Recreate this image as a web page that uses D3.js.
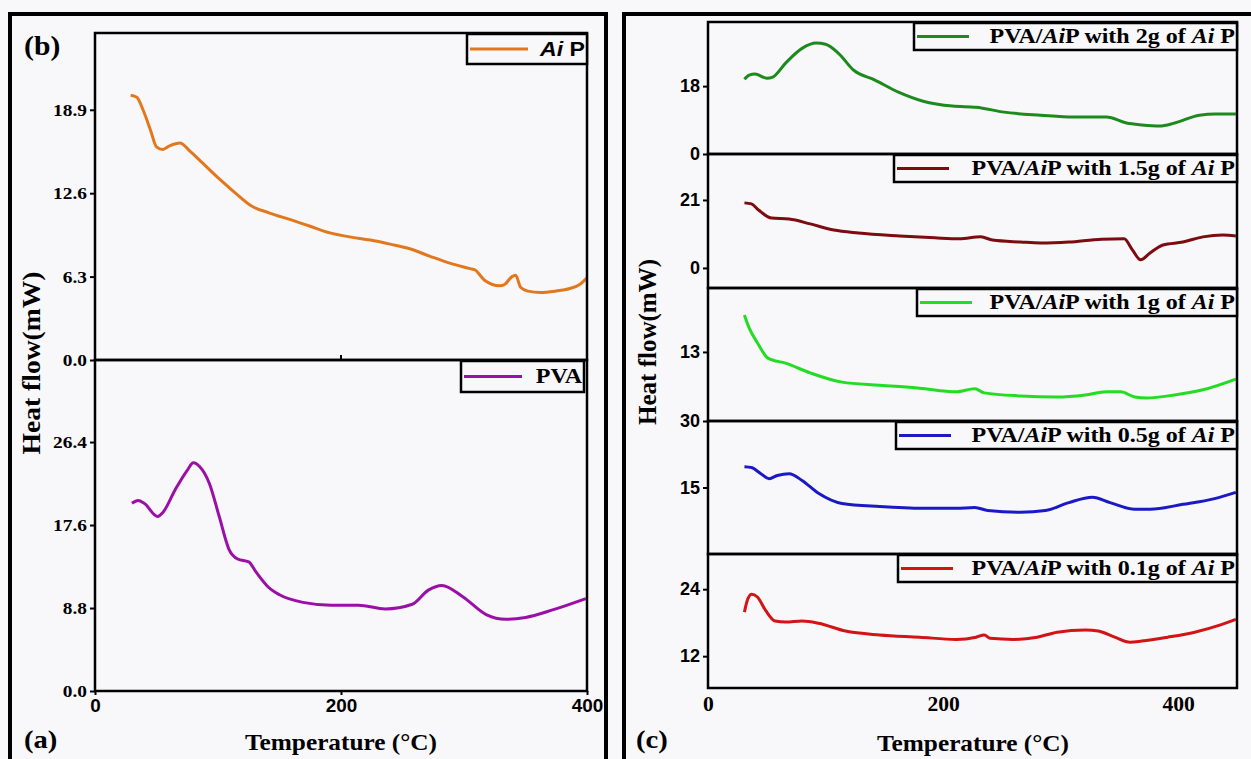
<!DOCTYPE html>
<html>
<head>
<meta charset="utf-8">
<script src="https://cdn.jsdelivr.net/npm/d3@7"></script>
<style>
  body { margin: 0; background: #f8f7fa; }
  svg { display: block; }
  .serif { font-family: "Liberation Serif", "Times New Roman", serif; font-weight: bold; }
  .sans { font-family: "Liberation Sans", Arial, sans-serif; font-weight: bold; }
</style>
</head>
<body>
<script>
// ---- data ----
const aipTemp = [29, 34, 39, 45, 50, 55, 61, 69, 77, 85, 102, 118, 126, 142, 159, 175, 191, 207, 224, 240, 256, 272, 289, 305, 309, 317, 329, 333, 339, 342, 346, 352, 362, 374, 386, 394, 400];
const aipFlow = [20.0, 19.85, 18.9, 17.4, 16.1, 15.9, 16.2, 16.4, 15.8, 15.1, 13.6, 12.3, 11.7, 11.1, 10.6, 10.1, 9.6, 9.3, 9.06, 8.75, 8.4, 7.85, 7.3, 6.9, 6.8, 6.0, 5.6, 5.7, 6.3, 6.4, 5.5, 5.2, 5.1, 5.2, 5.4, 5.7, 6.2];

const pvaTemp = [30, 35, 40, 51, 55, 65, 75, 80, 85, 93, 101, 109, 116, 125, 131, 141, 150, 169, 192, 214, 236, 258, 271, 282, 299, 318, 334, 350, 372, 399];
const pvaFlow = [19.9, 20.2, 19.9, 18.5, 18.9, 21.3, 23.4, 24.2, 23.8, 22.0, 18.5, 15.0, 14.0, 13.7, 12.6, 11.0, 10.2, 9.4, 9.1, 9.1, 8.7, 9.2, 10.7, 11.2, 10.0, 8.1, 7.6, 7.8, 8.6, 9.8];

const g2Temp = [31, 35, 40, 50, 55, 66, 80, 92, 100, 111, 124, 142, 162, 183, 208, 228, 252, 283, 311, 339, 356, 369, 384, 397, 418, 432, 449];
const g2Flow = [19.8, 20.9, 21.2, 20.1, 20.4, 24.1, 28.0, 29.4, 29.1, 26.7, 22.2, 19.6, 16.4, 14.0, 12.7, 12.4, 11.1, 10.3, 9.8, 9.8, 8.2, 7.7, 7.4, 8.2, 10.3, 10.6, 10.6];

const g15Temp = [31, 37, 43, 54, 69, 87, 107, 128, 163, 193, 214, 232, 242, 266, 283, 307, 335, 354, 361, 368, 376, 387, 404, 421, 438, 449];
const g15Flow = [20.1, 19.8, 17.9, 15.4, 15.1, 13.6, 11.7, 10.8, 9.9, 9.3, 9.0, 9.6, 8.6, 8.0, 7.7, 8.0, 8.9, 9.0, 5.6, 2.5, 4.6, 7.1, 8.0, 9.6, 10.2, 9.9];

const g1Temp = [31, 35, 42, 51, 66, 87, 114, 146, 180, 211, 227, 235, 266, 297, 321, 339, 351, 363, 373, 397, 421, 449];
const g1Flow = [20.2, 17.7, 14.8, 11.8, 10.8, 8.9, 7.1, 6.5, 5.9, 5.2, 5.8, 5.0, 4.4, 4.2, 4.6, 5.2, 5.2, 4.2, 4.0, 4.6, 5.6, 7.7];

const g05Temp = [31, 37, 45, 52, 59, 69, 80, 94, 114, 146, 183, 211, 227, 238, 266, 287, 307, 327, 342, 363, 376, 404, 431, 449];
const g05Flow = [19.7, 19.5, 18.1, 17.0, 17.7, 18.1, 16.6, 13.7, 11.4, 10.7, 10.3, 10.3, 10.5, 9.8, 9.4, 9.8, 11.6, 12.8, 11.6, 10.1, 10.1, 11.2, 12.5, 13.9];

const g01Temp = [31, 33, 37, 42, 49, 57, 66, 80, 94, 117, 146, 180, 211, 228, 235, 240, 260, 280, 297, 321, 332, 346, 359, 369, 391, 414, 436, 449];
const g01Flow = [19.9, 21.7, 23.1, 22.6, 20.2, 18.3, 18.1, 18.3, 17.9, 16.5, 15.8, 15.4, 15.0, 15.4, 15.8, 15.2, 15.0, 15.4, 16.3, 16.7, 16.5, 15.4, 14.5, 14.7, 15.4, 16.3, 17.6, 18.6];

const leftXTicks = [0, 200, 400];
const rightXTicks = [0, 200, 400];

// ---- layout ----
const W = 1251, H = 759;
const BG = "#f8f7fa";
const svg = d3.select("body").append("svg").attr("width", W).attr("height", H);
svg.append("rect").attr("width", W).attr("height", H).attr("fill", BG);

// outer panel boxes
svg.append("rect").attr("x", 10).attr("y", 14).attr("width", 596).attr("height", 760)
  .attr("fill", "none").attr("stroke", "#000").attr("stroke-width", 4);
svg.append("rect").attr("x", 624).attr("y", 14).attr("width", 640).attr("height", 760)
  .attr("fill", "none").attr("stroke", "#000").attr("stroke-width", 4);

const xL = d3.scaleLinear().domain([0, 400]).range([95, 587]);
const xR = d3.scaleLinear().domain([0, 450]).range([708, 1237]);

// the source picture is a bit stretched sideways, so texts get a small x scale
function label(x, y, str, cls, size, sx, anchor, rot) {
  return svg.append("text")
    .attr("class", cls).attr("font-size", size).attr("fill", "#000")
    .attr("text-anchor", anchor || "start")
    .attr("transform", `translate(${x},${y})` + (rot ? ` rotate(${rot})` : "") + ` scale(${sx},1)`)
    .text(str);
}

function styleTicks(ax, cls, size, sx) {
  ax.select(".domain").remove();
  ax.selectAll("line").attr("stroke", "#000").attr("stroke-width", 2);
  ax.selectAll("text").each(function() {
    const t = d3.select(this);
    const x = +t.attr("x") || 0, y = +t.attr("y") || 0;
    t.attr("x", null).attr("y", null)
      .attr("transform", `translate(${x},${y}) scale(${sx},1)`)
      .attr("class", cls).attr("font-size", size).attr("fill", "#000");
  });
}

function subplot(x, cfg) {
  const y = d3.scaleLinear().domain(cfg.domain).range([cfg.bottom, cfg.top]);
  const g = svg.append("g");
  const data = cfg.temp.map((t, i) => [t, cfg.flow[i]]);

  g.append("path")
    .datum(data)
    .attr("fill", "none")
    .attr("stroke", cfg.color)
    .attr("stroke-width", 3)
    .attr("stroke-linejoin", "round")
    .attr("d", d3.line().x(d => x(d[0])).y(d => y(d[1])).curve(d3.curveMonotoneX));

  const ax = g.append("g")
    .attr("transform", `translate(${x.range()[0]},0)`)
    .call(d3.axisLeft(y).tickValues(cfg.ticks).tickSize(5).tickPadding(3).tickFormat(cfg.fmt));
  styleTicks(ax, cfg.tickFont, cfg.tickSize, cfg.tickSx);

  g.append("rect")
    .attr("x", x.range()[0]).attr("y", cfg.top)
    .attr("width", x.range()[1] - x.range()[0]).attr("height", cfg.bottom - cfg.top)
    .attr("fill", "none").attr("stroke", "#000").attr("stroke-width", 2.5);

  // legend
  const lg = cfg.legend;
  const right = x.range()[1] + (lg.dx || 0);
  const midY = cfg.top + 1 + lg.h / 2;
  g.append("rect")
    .attr("x", right - lg.w).attr("y", cfg.top + 1).attr("width", lg.w).attr("height", lg.h)
    .attr("fill", BG).attr("stroke", "#000").attr("stroke-width", 2.5);
  g.append("line")
    .attr("x1", right - lg.w + 3).attr("x2", right - lg.w + 3 + lg.line)
    .attr("y1", midY).attr("y2", midY)
    .attr("stroke", cfg.color).attr("stroke-width", 3);
  const t = g.append("text")
    .attr("class", lg.font)
    .attr("font-size", lg.size)
    .attr("text-anchor", "end").attr("fill", "#000")
    .attr("transform", `translate(${right - 2},${midY + lg.size * 0.34}) scale(${lg.sx},1)`);
  lg.parts.forEach(p => {
    t.append("tspan").attr("font-style", p[1] ? "italic" : "normal").text(p[0]);
  });
  return y;
}

// ---- left panel ----
const f1 = d3.format(".1f");
subplot(xL, {
  temp: aipTemp, flow: aipFlow, color: "#e2781e", domain: [0, 24.7], top: 33, bottom: 360,
  ticks: [0, 6.3, 12.6, 18.9], fmt: f1, tickFont: "serif", tickSize: 17, tickSx: 1.14,
  legend: { w: 120, h: 30, line: 58, size: 21, sx: 1.1, font: "sans", parts: [["Ai", true], [" P", false]] }
});
subplot(xL, {
  temp: pvaTemp, flow: pvaFlow, color: "#9a0fa6", domain: [0, 35.1], top: 360, bottom: 691,
  ticks: [0, 8.8, 17.6, 26.4], fmt: f1, tickFont: "serif", tickSize: 17, tickSx: 1.14,
  legend: { w: 123, h: 31, line: 58, size: 20, sx: 1.2, font: "serif", dx: -3, parts: [["PVA", false]] }
});

// x ticks for left
const axL = svg.append("g").attr("transform", "translate(0,691)")
  .call(d3.axisBottom(xL).tickValues(leftXTicks).tickSize(4).tickPadding(4).tickFormat(d3.format("d")));
styleTicks(axL, "sans", 18, 1.05);
svg.append("line").attr("x1", xL(200)).attr("x2", xL(200)).attr("y1", 360).attr("y2", 355)
  .attr("stroke", "#000").attr("stroke-width", 2);

label(40, 363, "Heat flow(mW)", "serif", 26, 1.06, "middle", -90);
label(341, 750, "Temperature (°C)", "serif", 23, 1.1, "middle");
label(24, 55, "(b)", "serif", 27, 1.1, "start");
label(24, 748, "(a)", "serif", 26, 1.1, "start");

// ---- right panel ----
const fd = d3.format("d");
const rightLegend = (amt, w) => ({
  w: w, h: 27, line: 52, size: 20, sx: 1.2, font: "serif",
  parts: [["PVA/", false], ["Ai", true], ["P with " + amt + " of ", false], ["Ai", true], [" P", false]]
});
subplot(xR, {
  temp: g2Temp, flow: g2Flow, color: "#1c8a1c", domain: [0, 35], top: 22, bottom: 154,
  ticks: [0, 18], fmt: fd, tickFont: "sans", tickSize: 18, tickSx: 1, legend: rightLegend("2g", 323)
});
subplot(xR, {
  temp: g15Temp, flow: g15Flow, color: "#7c0c10", domain: [-6.2, 35.2], top: 154, bottom: 288,
  ticks: [0, 21], fmt: fd, tickFont: "sans", tickSize: 18, tickSx: 1, legend: rightLegend("1.5g", 343)
});
subplot(xR, {
  temp: g1Temp, flow: g1Flow, color: "#22dd22", domain: [-0.5, 25.5], top: 288, bottom: 421,
  ticks: [13], fmt: fd, tickFont: "sans", tickSize: 18, tickSx: 1, legend: rightLegend("1g", 320)
});
subplot(xR, {
  temp: g05Temp, flow: g05Flow, color: "#1a1ac4", domain: [0, 30], top: 421, bottom: 554,
  ticks: [30, 15], fmt: fd, tickFont: "sans", tickSize: 18, tickSx: 1, legend: rightLegend("0.5g", 341)
});
subplot(xR, {
  temp: g01Temp, flow: g01Flow, color: "#d21414", domain: [6.3, 30.3], top: 554, bottom: 688,
  ticks: [12, 24], fmt: fd, tickFont: "sans", tickSize: 18, tickSx: 1, legend: rightLegend("0.1g", 339)
});

const axR = svg.append("g").attr("transform", "translate(0,688)")
  .call(d3.axisBottom(xR).tickValues(rightXTicks).tickSize(0).tickPadding(9).tickFormat(fd));
styleTicks(axR, "serif", 20, 1.08);

label(656, 342, "Heat flow(mW)", "serif", 25, 1.0, "middle", -90);
label(973, 751, "Temperature (°C)", "serif", 23, 1.1, "middle");
label(636, 748, "(c)", "serif", 26, 1.1, "start");
</script>
</body>
</html>
